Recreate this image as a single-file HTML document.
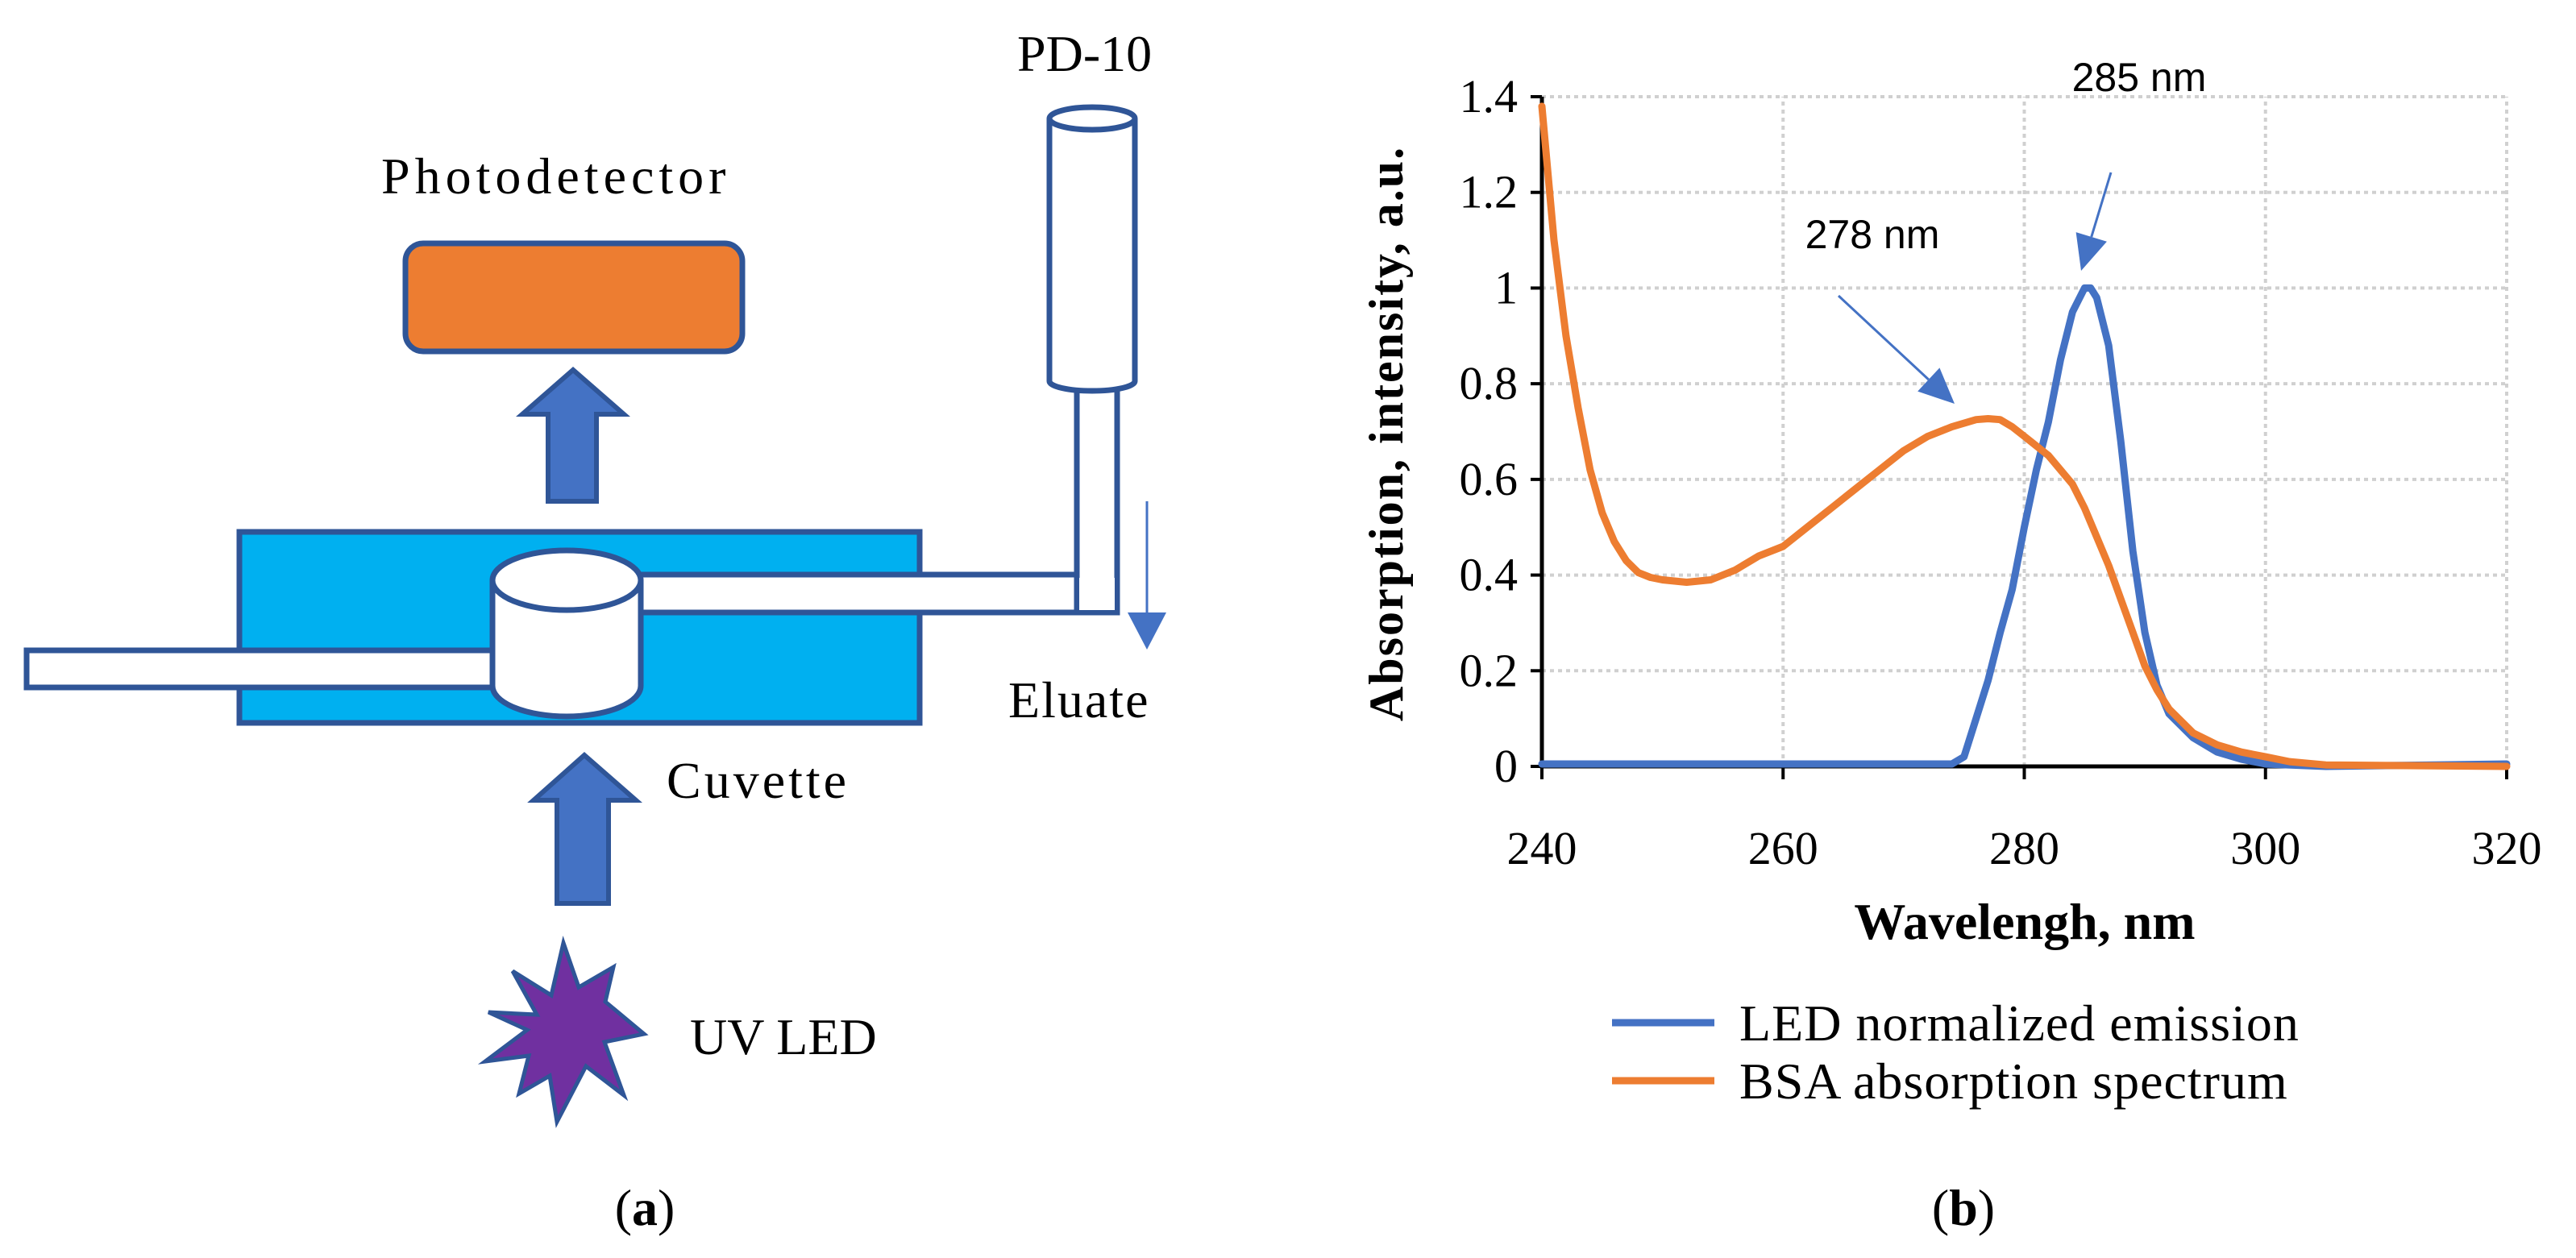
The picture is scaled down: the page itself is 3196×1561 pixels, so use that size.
<!DOCTYPE html>
<html><head><meta charset="utf-8"><style>
html,body{margin:0;padding:0;background:#fff}
svg{display:block}
</style></head><body>
<svg id="fig" width="3196" height="1561" viewBox="0 0 3196 1561" xmlns="http://www.w3.org/2000/svg">
<g id="panel-a" stroke="#2F5597" stroke-width="7">
  <rect x="503" y="302" width="418" height="134" rx="22" fill="#ED7D31"/>
  <path d="M680,622 L680,514 L648,514 L711,459 L774,514 L740,514 L740,622 Z" fill="#4472C4" stroke-width="6"/>
  <path d="M691,1121 L691,993 L662,993 L725,937 L789,993 L755,993 L755,1121 Z" fill="#4472C4" stroke-width="6"/>
  <rect x="297" y="660" width="844" height="237" fill="#00B0F0"/>
  <rect x="33" y="807" width="590" height="46" fill="#fff"/>
  <rect x="785" y="713" width="601" height="47" fill="#fff"/>
  <rect x="1336" y="480" width="50" height="280" fill="#fff"/>
  <rect x="1339" y="717" width="44" height="40" fill="#fff" stroke="none"/>
  <path d="M611,720 L611,851 A92,38 0 0 0 795,851 L795,720" fill="#fff"/>
  <ellipse cx="703" cy="720" rx="92" ry="37" fill="#fff"/>
  <path d="M1302,147 L1302,473 A53,12 0 0 0 1408,473 L1408,147" fill="#fff"/>
  <ellipse cx="1355" cy="147" rx="53" ry="14" fill="#fff"/>
  <polygon fill="#7030A0" stroke-width="5" points="699,1170 718,1225 761,1200 751,1243 799,1283 750,1293 774,1359 727,1323 691,1392 682,1335 644,1357 656,1310 602,1317 654,1278 606,1256 666,1259 636,1205 684,1235"/>
  <line x1="1423" y1="622" x2="1423" y2="770" stroke="#4472C4" stroke-width="3"/>
  <polygon points="1399,760 1447,760 1423,806" fill="#4472C4" stroke="none"/>
</g>
<g font-family="'Liberation Serif',serif" font-size="64" fill="#000">
  <text x="473" y="240" letter-spacing="6">Photodetector</text>
  <text x="1262" y="88">PD-10</text>
  <text x="1251" y="890" letter-spacing="2">Eluate</text>
  <text x="827" y="990" letter-spacing="4">Cuvette</text>
  <text x="856" y="1308">UV LED</text>
  <text x="800" y="1520" text-anchor="middle">(<tspan font-weight="bold">a</tspan>)</text>
  <text x="2436" y="1520" text-anchor="middle">(<tspan font-weight="bold">b</tspan>)</text>
</g>
<g id="chart"></g>
</svg>
<script>
const xTicks=[240,260,280,300,320];
const yTicks=[0,0.2,0.4,0.6,0.8,1,1.2,1.4];
const yTickLabels=["0","0.2","0.4","0.6","0.8","1","1.2","1.4"];
const bsaX=[240,241,242,243,244,245,246,247,248,249,250,252,254,256,258,260,262,264,266,268,270,272,274,276,277,278,279,280,282,284,285,286,287,288,289,290,291,292,294,296,298,300,302,305,320];
const bsaY=[1.38,1.1,0.9,0.75,0.62,0.53,0.47,0.43,0.405,0.395,0.39,0.385,0.39,0.41,0.44,0.46,0.5,0.54,0.58,0.62,0.66,0.69,0.71,0.725,0.727,0.725,0.71,0.69,0.65,0.59,0.54,0.48,0.42,0.35,0.28,0.21,0.16,0.12,0.07,0.045,0.03,0.02,0.01,0.003,0];
const ledX=[240,274,275,276,277,278,279,280,281,282,283,284,285,285.5,286,287,288,289,290,291,292,294,296,298,300,305,320];
const ledY=[0.005,0.005,0.02,0.1,0.18,0.28,0.37,0.5,0.62,0.72,0.85,0.95,1.0,1.0,0.98,0.88,0.68,0.45,0.28,0.17,0.11,0.06,0.03,0.015,0.005,0,0.005];
const X0=1913,X1=3110,Y0=951,Y1=120;
const sx=v=>X0+(v-240)/(320-240)*(X1-X0);
const sy=v=>Y0-(v/1.4)*(Y0-Y1);
const NS="http://www.w3.org/2000/svg";
const g=document.getElementById('chart');
function mk(t,a){const e=document.createElementNS(NS,t);for(const k in a)e.setAttribute(k,a[k]);g.appendChild(e);return e;}
yTicks.forEach((v,i)=>{
  if(v>0){const l=mk('line',{x1:X0,x2:X1,y1:sy(v),y2:sy(v),stroke:'#d0d0d0','stroke-width':4,'stroke-dasharray':'5 5'});
  
  }
  const tk=mk('line',{x1:X0-14,x2:X0,y1:sy(v),y2:sy(v),stroke:'#000','stroke-width':4});
  
  
  const t=mk('text',{x:X0-30,y:sy(v)+19,'text-anchor':'end','font-size':58,'font-family':'"Liberation Serif",serif'});
  t.textContent=yTickLabels[i];
  
  
});
xTicks.forEach(v=>{
  if(v>240){const l=mk('line',{x1:sx(v),x2:sx(v),y1:Y0,y2:Y1,stroke:'#d0d0d0','stroke-width':4,'stroke-dasharray':'5 5'});
  
  }
  const tk=mk('line',{x1:sx(v),x2:sx(v),y1:Y0,y2:Y0+16,stroke:'#000','stroke-width':4});
  
  
  const t=mk('text',{x:sx(v),y:1072,'text-anchor':'middle','font-size':58,'font-family':'"Liberation Serif",serif'});
  t.textContent=v;
  
  
});
const ax=mk('path',{d:`M${X0},${Y1} L${X0},${Y0} L${X1},${Y0}`,fill:'none',stroke:'#000','stroke-width':5});


function line(xs,ys,c,n){
  const d=xs.map((x,i)=>(i?'L':'M')+sx(x).toFixed(1)+','+sy(ys[i]).toFixed(1)).join(' ');
  const p=mk('path',{d:d,fill:'none',stroke:c,'stroke-width':9,'stroke-linejoin':'round','stroke-linecap':'round'});
  
  
}
line(ledX,ledY,'#4472C4','led-emission-line');
line(bsaX,bsaY,'#ED7D31','bsa-absorption-line');
const xt=mk('text',{x:2512,y:1165,'text-anchor':'middle','font-size':64,'font-weight':'bold','font-family':'"Liberation Serif",serif'});
xt.textContent='Wavelengh, nm';


const yt=mk('text',{x:0,y:0,'text-anchor':'middle','font-size':60,'font-weight':'bold','letter-spacing':2,'font-family':'"Liberation Serif",serif',transform:'translate(1740,538) rotate(-90)'});
yt.textContent='Absorption, intensity, a.u.';


function ann(tx,ty,label,x1,y1,x2,y2,n){
  const t=mk('text',{x:tx,y:ty,'text-anchor':'middle','font-size':50,'font-family':'"Liberation Sans",sans-serif'});
  t.textContent=label;
  
  
  const ang=Math.atan2(y2-y1,x2-x1),L=44,W=20;
  const bx=x2-L*Math.cos(ang),by=y2-L*Math.sin(ang);
  const l=mk('line',{x1:x1,y1:y1,x2:bx,y2:by,stroke:'#4472C4','stroke-width':3});
  
  
  const px=-Math.sin(ang)*W,py=Math.cos(ang)*W;
  const h=mk('polygon',{points:`${x2},${y2} ${bx+px},${by+py} ${bx-px},${by-py}`,fill:'#4472C4'});
  
  
}
ann(2654,113,'285 nm',2619,214,2582,336,'peak-285');
ann(2323,308,'278 nm',2281,367,2425,501,'peak-278');
[['LED normalized emission','#4472C4',1269,'legend-led'],['BSA absorption spectrum','#ED7D31',1341,'legend-bsa']].forEach(r=>{
  const l=mk('line',{x1:2000,x2:2127,y1:r[2],y2:r[2],stroke:r[1],'stroke-width':9});
  
  
  const t=mk('text',{x:2158,y:r[2]+22,'font-size':64,'letter-spacing':1,'font-family':'"Liberation Serif",serif'});
  t.textContent=r[0];
  
  
});
</script>
</body></html>
